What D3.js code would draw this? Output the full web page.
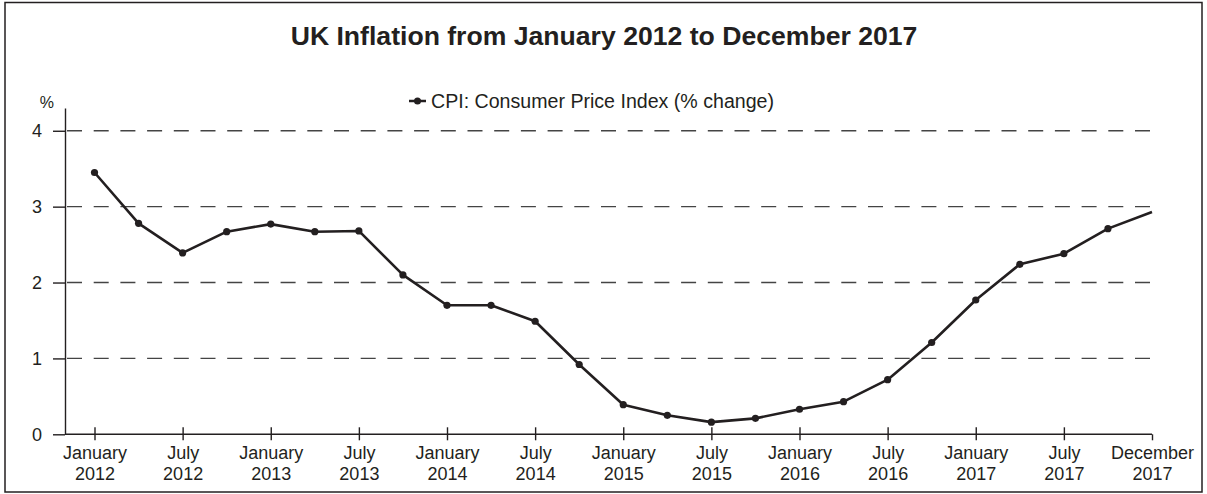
<!DOCTYPE html>
<html>
<head>
<meta charset="utf-8">
<script src="https://cdn.jsdelivr.net/npm/d3@7"></script>
<style>
  body { margin: 0; background: #fff; }
  svg { font-family: "Liberation Sans", Arial, sans-serif; }
</style>
</head>
<body>
<svg id="chart" width="1207" height="494"></svg>
<script>
// quarterly readings, last one is December 2017
const quarters = [
    "Jan 2012", "Apr 2012", "Jul 2012", "Oct 2012",
    "Jan 2013", "Apr 2013", "Jul 2013", "Oct 2013",
    "Jan 2014", "Apr 2014", "Jul 2014", "Oct 2014",
    "Jan 2015", "Apr 2015", "Jul 2015", "Oct 2015",
    "Jan 2016", "Apr 2016", "Jul 2016", "Oct 2016",
    "Jan 2017", "Apr 2017", "Jul 2017", "Oct 2017",
    "Dec 2017"
];
const cpi = [
    3.45, 2.78, 2.39, 2.67,
    2.77, 2.67, 2.68, 2.10,
    1.70, 1.70, 1.49, 0.92,
    0.39, 0.25, 0.16, 0.21,
    0.33, 0.43, 0.72, 1.21,
    1.77, 2.24, 2.38, 2.71,
    2.93
];
const tickQuarters = ["Jan 2012", "Jul 2012", "Jan 2013", "Jul 2013", "Jan 2014", "Jul 2014",
    "Jan 2015", "Jul 2015", "Jan 2016", "Jul 2016", "Jan 2017", "Jul 2017", "Dec 2017"];
const tickLabels = [
    ["January", "2012"], ["July", "2012"], ["January", "2013"], ["July", "2013"],
    ["January", "2014"], ["July", "2014"], ["January", "2015"], ["July", "2015"],
    ["January", "2016"], ["July", "2016"], ["January", "2017"], ["July", "2017"],
    ["December", "2017"]
];
const yTicks = [0, 1, 2, 3, 4];
const markers = quarters.slice(0, -1); // no dot on the december end point

const ink = "#231f20";
const svg = d3.select("#chart");

const axisLeftX = 65, axisBottomY = 434.3;

const x = d3.scalePoint()
    .domain(quarters)
    .range([94.5, 1152]);

const y = d3.scaleLinear()
    .domain([0, 4.3])
    .range([axisBottomY, 108]);

const data = quarters.map((q, i) => ({q: q, v: cpi[i]}));

// frame
svg.append("rect")
    .attr("x", 5).attr("y", 2.5)
    .attr("width", 1197).attr("height", 489.5)
    .attr("fill", "none")
    .attr("stroke", ink)
    .attr("stroke-width", 1.5);

// title + legend
svg.append("text")
    .attr("x", 604).attr("y", 45)
    .attr("text-anchor", "middle")
    .attr("font-size", 26.6)
    .attr("font-weight", "bold")
    .attr("fill", ink)
    .text("UK Inflation from January 2012 to December 2017");

const legend = svg.append("g").attr("transform", "translate(409,101)");
legend.append("line")
    .attr("x1", 0).attr("x2", 17)
    .attr("stroke", ink).attr("stroke-width", 2.5);
legend.append("circle")
    .attr("cx", 8.5).attr("r", 3.5).attr("fill", ink);
legend.append("text")
    .attr("x", 22).attr("y", 7)
    .attr("font-size", 19.6)
    .attr("fill", ink)
    .text("CPI: Consumer Price Index (% change)");

// gridlines
svg.append("g")
    .selectAll("line")
    .data(yTicks.filter(d => d > 0))
    .join("line")
    .attr("x1", axisLeftX + 2).attr("x2", 1157)
    .attr("y1", d => y(d)).attr("y2", d => y(d))
    .attr("stroke", "#444")
    .attr("stroke-width", 1.4)
    .attr("stroke-dasharray", "15,11.7");

// y axis
const yAxis = svg.append("g")
    .attr("transform", `translate(${axisLeftX},0)`)
    .call(d3.axisLeft(y).tickValues(yTicks).tickFormat(d3.format("d")).tickSize(12).tickSizeOuter(0));
yAxis.select(".domain").attr("stroke", ink).attr("stroke-width", 1.4);
yAxis.selectAll(".tick line").attr("stroke", ink).attr("stroke-width", 1.4);
yAxis.selectAll(".tick text")
    .attr("x", -23)
    .attr("font-size", 18)
    .attr("font-family", "Liberation Sans, Arial, sans-serif")
    .attr("fill", ink);

svg.append("text")
    .attr("x", 54).attr("y", 108)
    .attr("text-anchor", "end")
    .attr("font-size", 16)
    .attr("fill", ink)
    .text("%");

// x axis
const xAxis = svg.append("g")
    .attr("transform", `translate(0,${axisBottomY})`)
    .call(d3.axisBottom(x).tickValues(tickQuarters).tickSize(6).tickSizeOuter(0));
xAxis.select(".domain")
    .attr("d", `M${axisLeftX},0H${x("Dec 2017")}`)
    .attr("stroke", ink).attr("stroke-width", 1.4);
xAxis.selectAll(".tick line")
    .attr("y1", d => d === "Dec 2017" ? 0 : -7)
    .attr("y2", 6)
    .attr("stroke", ink).attr("stroke-width", 1.4);
xAxis.selectAll(".tick text").remove();
xAxis.selectAll(".tick").each(function(d) {
    const lab = tickLabels[tickQuarters.indexOf(d)];
    const t = d3.select(this).append("text")
        .attr("text-anchor", "middle")
        .attr("font-size", 18)
        .attr("font-family", "Liberation Sans, Arial, sans-serif")
        .attr("fill", ink);
    t.append("tspan").attr("x", 0).attr("y", 25).text(lab[0]);
    t.append("tspan").attr("x", 0).attr("y", 46).text(lab[1]);
});

// series
const line = d3.line()
    .x(d => x(d.q))
    .y(d => y(d.v));

svg.append("path")
    .datum(data)
    .attr("d", line)
    .attr("fill", "none")
    .attr("stroke", ink)
    .attr("stroke-width", 2.6)
    .attr("stroke-linejoin", "round");

svg.append("g")
    .selectAll("circle")
    .data(data.filter(d => markers.includes(d.q)))
    .join("circle")
    .attr("cx", d => x(d.q))
    .attr("cy", d => y(d.v))
    .attr("r", 3.6)
    .attr("fill", ink);
</script>
</body>
</html>
